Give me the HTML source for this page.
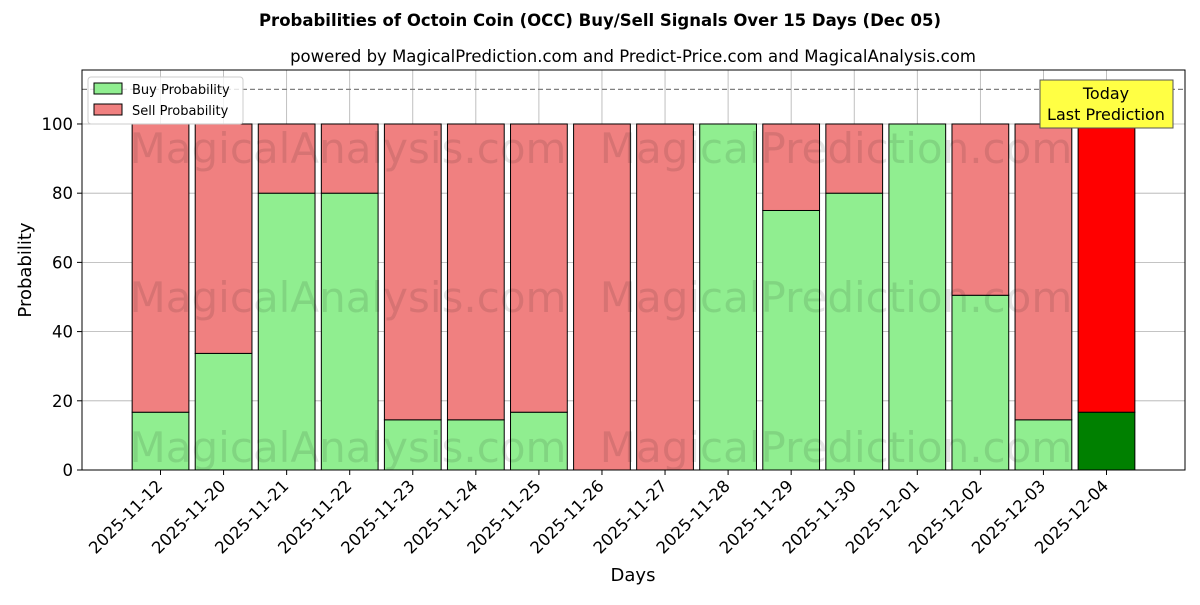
<!DOCTYPE html>
<html><head><meta charset="utf-8"><style>
body{margin:0;background:#fff;}
svg text{font-family:"DejaVu Sans","Liberation Sans",sans-serif;}
</style></head><body>
<svg id="chart" width="1200" height="600" xmlns="http://www.w3.org/2000/svg">
<rect width="1200" height="600" fill="#fff"/>
<text x="600" y="26" text-anchor="middle" font-size="16.5" font-weight="bold">Probabilities of Octoin Coin (OCC) Buy/Sell Signals Over 15 Days (Dec 05)</text>
<text x="633" y="62" text-anchor="middle" font-size="16.5">powered by MagicalPrediction.com and Predict-Price.com and MagicalAnalysis.com</text>
<g id="grid"></g>
<g id="bars"></g>
<g id="axes"></g>
<g font-size="42" fill="#000" fill-opacity="0.1">
<text x="348" y="163" text-anchor="middle">MagicalAnalysis.com</text>
<text x="836" y="163" text-anchor="middle">MagicalPrediction.com</text>
<text x="348" y="312" text-anchor="middle">MagicalAnalysis.com</text>
<text x="836" y="312" text-anchor="middle">MagicalPrediction.com</text>
<text x="348" y="462" text-anchor="middle">MagicalAnalysis.com</text>
<text x="836" y="462" text-anchor="middle">MagicalPrediction.com</text>
</g>
<g>
<rect x="88" y="77" width="155" height="47" fill="#fff" fill-opacity="0.8" stroke="#ccc" rx="3"/>
<rect x="94" y="83" width="28" height="11" fill="#90ee90" stroke="#000"/>
<text x="132" y="94" font-size="13">Buy Probability</text>
<rect x="94" y="104" width="28" height="11" fill="#f08080" stroke="#000"/>
<text x="132" y="115" font-size="13">Sell Probability</text>
</g>
<g>
<rect x="1040" y="80" width="133" height="48" fill="#ffff44" stroke="#555"/>
<text x="1106" y="99" text-anchor="middle" font-size="16">Today</text>
<text x="1106" y="120" text-anchor="middle" font-size="16">Last Prediction</text>
</g>
<text x="633" y="581" text-anchor="middle" font-size="18">Days</text>
<text transform="translate(31,270) rotate(-90)" text-anchor="middle" font-size="18">Probability</text>
</svg>
<script>
const categories=["2025-11-12","2025-11-20","2025-11-21","2025-11-22","2025-11-23","2025-11-24","2025-11-25","2025-11-26","2025-11-27","2025-11-28","2025-11-29","2025-11-30","2025-12-01","2025-12-02","2025-12-03","2025-12-04"];
const buyValues=[16.7,33.7,80,80,14.5,14.5,16.7,0,0,100,75,80,100,50.5,14.5,16.7];
const sellValues=[83.3,66.3,20,20,85.5,85.5,83.3,100,100,0,25,20,0,49.5,85.5,83.3];
const yTicks=[0,20,40,60,80,100];
const thresholdValue=110;
const NS="http://www.w3.org/2000/svg";
const L=82,R=1185,T=70,B=470,xmin=-1.245,xmax=16.245,ymin=0,ymax=115.6;
const xs=i=>L+(i-xmin)/(xmax-xmin)*(R-L);
const ys=v=>B-(v-ymin)/(ymax-ymin)*(B-T);
const bw=0.9*(R-L)/(xmax-xmin);
function mk(t,a,p){const e=document.createElementNS(NS,t);for(const k in a)e.setAttribute(k,a[k]);p.appendChild(e);return e;}
const grid=document.getElementById('grid'),bars=document.getElementById('bars'),axes=document.getElementById('axes');
categories.forEach((c,i)=>{const l=mk('line',{x1:xs(i),x2:xs(i),y1:T,y2:B,stroke:'#b0b0b0','stroke-width':0.8},grid);
});
yTicks.forEach(v=>{const l=mk('line',{x1:L,x2:R,y1:ys(v),y2:ys(v),stroke:'#b0b0b0','stroke-width':0.8},grid);
});
const th=mk('line',{x1:L,x2:R,y1:ys(thresholdValue),y2:ys(thresholdValue),stroke:'#808080','stroke-dasharray':'5,3','stroke-width':1.2},grid);

categories.forEach((c,i)=>{const last=i===categories.length-1;
const b=mk('rect',{x:xs(i)-bw/2,y:ys(buyValues[i]),width:bw,height:ys(0)-ys(buyValues[i]),fill:last?'#008000':'#90ee90',stroke:'#000','stroke-width':1},bars);

const s=mk('rect',{x:xs(i)-bw/2,y:ys(buyValues[i]+sellValues[i]),width:bw,height:ys(buyValues[i])-ys(buyValues[i]+sellValues[i]),fill:last?'#ff0000':'#f08080',stroke:'#000','stroke-width':1},bars);

const tk=mk('line',{x1:xs(i),x2:xs(i),y1:B,y2:B+5,stroke:'#000'},axes);

const t=mk('text',{'font-size':16.5,'text-anchor':'end',transform:`translate(${xs(i)+3},${B+17}) rotate(-45)`},axes);t.textContent=c;
});
yTicks.forEach(v=>{const tk=mk('line',{x1:L-5,x2:L,y1:ys(v),y2:ys(v),stroke:'#000'},axes);

const t=mk('text',{x:L-9,y:ys(v)+6,'font-size':16.5,'text-anchor':'end'},axes);t.textContent=v;
});
const fr=mk('rect',{x:L,y:T,width:R-L,height:B-T,fill:'none',stroke:'#000','stroke-width':1},axes);

</script>
</body></html>
